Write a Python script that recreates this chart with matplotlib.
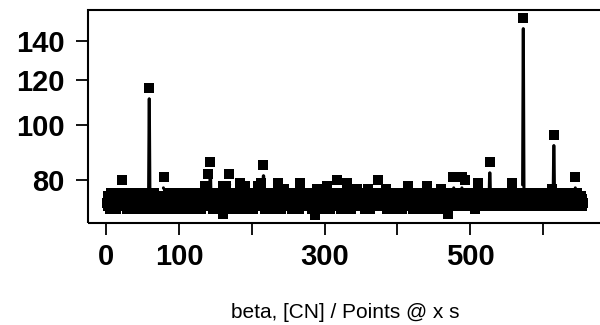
import numpy as np
import matplotlib
matplotlib.use("Agg")
import matplotlib.pyplot as plt
from matplotlib.collections import LineCollection
from matplotlib.patches import Rectangle
from matplotlib.ticker import NullLocator

values = [
    73,75,72,74,71,76,73,72,75,74,72,73,76,71,74,73,75,72,74,73,80,72,75,73,74,
    72,76,73,71,74,75,72,73,74,76,71,73,75,72,74,73,72,76,74,71,73,75,72,74,73,
    74,72,75,73,71,74,76,72,116,73,74,72,75,71,73,76,74,72,73,75,71,74,73,72,75,
    73,72,74,81,75,71,73,74,72,76,73,71,74,75,72,73,74,71,76,73,72,74,75,73,71,
    74,76,72,73,75,71,74,73,72,75,76,73,71,74,72,73,75,74,72,71,76,73,74,72,75,
    73,72,75,74,71,73,76,72,74,73,78,72,74,75,82,73,76,86,72,74,75,71,73,76,74,
    72,75,73,71,74,76,73,72,75,78,69.6,71,73,76,78,72,74,73,82,75,72,74,76,73,71,
    74,73,75,72,76,74,71,73,79,75,72,74,73,76,72,78,74,73,71,75,76,72,74,73,75,
    73,71,74,76,72,73,75,74,78,72,73,79,74,76,72,85,73,71,75,74,72,76,73,74,72,
    75,73,74,71,76,72,73,75,74,72,79,73,76,74,71,73,75,72,77,74,73,76,72,74,75,
    72,74,73,76,71,75,74,72,73,76,74,72,75,73,71,79,74,76,72,73,75,74,72,76,73,
    74,72,75,73,76,72,74,71,73,75,74,69.4,76,73,77,74,72,73,75,76,71,74,73,72,75,
    73,76,78,74,72,75,73,71,74,76,72,73,75,74,72,76,80,73,74,72,75,71,73,76,74,
    72,75,73,74,76,79,73,72,74,75,71,73,76,74,72,73,75,74,72,77,76,73,74,72,75,
    73,74,72,76,75,71,73,74,72,77,75,73,71,74,76,72,73,75,74,72,76,73,74,80,73,
    75,72,74,73,76,72,73,75,77,74,71,73,76,72,74,75,73,72,76,74,71,73,75,74,72,
    74,76,73,72,75,74,71,73,76,72,74,75,73,72,78,74,73,76,72,75,74,71,73,76,74,
    72,75,73,74,76,72,73,75,71,74,73,76,72,74,75,78,73,72,74,76,73,71,75,74,72,
    74,73,76,72,75,73,71,74,76,77,73,72,75,74,73,76,72,74,69.6,73,75,76,72,74,73,
    75,81,73,72,76,74,73,75,72,74,76,73,72,81,75,74,73,80,72,76,74,73,75,72,74,
    73,76,72,74,75,73,71,74,76,72,79,73,75,74,72,76,73,74,75,72,73,76,74,72,75,
    74,86,73,75,72,74,76,73,72,75,74,73,76,72,74,75,73,72,76,74,73,75,72,74,76,
    73,75,72,74,76,73,75,79,74,72,73,76,75,74,73,72,75,76,74,73,72,75,154,74,73,
    75,72,74,76,73,75,74,72,76,73,74,75,73,72,76,74,73,75,74,72,73,76,74,73,75,
    74,72,75,73,76,74,73,72,75,74,73,77,76,74,96,73,75,74,72,76,73,75,74,73,72,
    75,73,74,76,72,74,75,73,76,74,72,75,73,74,76,72,73,75,81,74,72,76,73,75,74,
    73,75,72,74,73,
]
x_ticks = [0, 100, 200, 300, 400, 500, 600]
x_labels = ["0", "100", "", "300", "", "500", ""]
y_ticks = [80, 100, 120, 140]
y_labels = ["80", "100", "120", "140"]
x_label = "beta, [CN] / Points @ x s"

plt.rcParams["font.family"] = ["Liberation Sans", "DejaVu Sans"]

y = np.array(values, dtype=float)
x = np.arange(1, len(y) + 1, dtype=float)

W, H = 600, 325
fig = plt.figure(figsize=(W / 100, H / 100), dpi=100)
left_px, top_px, bottom_px, right_px = 88, 10, 223, 602
ax = fig.add_axes([left_px / W, 1 - bottom_px / H,
                   (right_px - left_px) / W, (bottom_px - top_px) / H])
ax.set_yscale("log")

# R-style 4% axis extension
xr = x.max() - x.min()
ax.set_xlim(x.min() - 0.04 * xr, x.max() + 0.04 * xr)
ly = np.log10(y)
lr = ly.max() - ly.min()
ax.set_ylim(10 ** (ly.min() - 0.04 * lr), 10 ** (ly.max() + 0.04 * lr))

# markers
ax.plot(x, y, ls="none", marker="s", ms=7.2, color="black", mew=0, zorder=3)

# connecting lines with gaps around points (type = "b")
gap = 11.0
disp = ax.transData.transform(np.column_stack([x, y]))
segs = []
inv = ax.transData.inverted()
for i in range(len(disp) - 1):
    p0, p1 = disp[i], disp[i + 1]
    d = p1 - p0
    L = np.hypot(*d)
    if L > 2 * gap:
        u = d / L
        a = inv.transform(p0 + u * gap)
        b = inv.transform(p1 - u * gap)
        segs.append([a, b])
ax.add_collection(LineCollection(segs, colors="black", linewidths=2.2,
                                 capstyle="round", zorder=2))

# box
for s in ax.spines.values():
    s.set_visible(False)
ax.add_patch(Rectangle((0, 0), 1, 1, transform=ax.transAxes, fill=False,
                       lw=1.5, ec="black", clip_on=False, zorder=5))

ax.set_xticks(x_ticks)
ax.set_xticklabels(x_labels)
ax.set_yticks(y_ticks)
ax.set_yticklabels(y_labels)
ax.yaxis.set_minor_locator(NullLocator())
ax.xaxis.set_minor_locator(NullLocator())
ax.tick_params(axis="both", direction="out", length=8.6, width=1.3,
               labelsize=21, color="black")
ax.tick_params(axis="x", pad=6)
ax.tick_params(axis="y", pad=8)
for t in ax.get_xticklabels() + ax.get_yticklabels():
    t.set_fontweight("bold")

fig.text(345 / W, 1 - 312 / H, x_label, ha="center", va="center", fontsize=15)

fig.savefig("out.png", dpi=100)
